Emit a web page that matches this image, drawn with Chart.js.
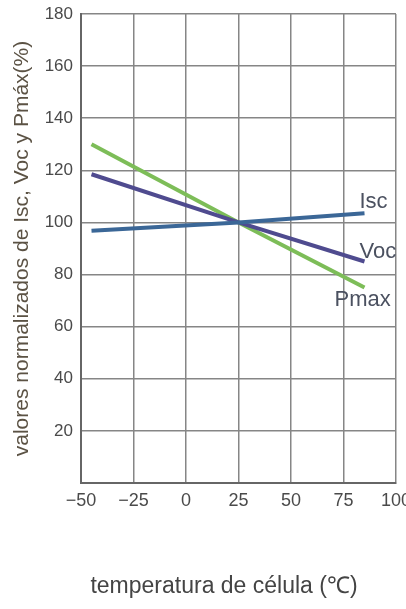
<!DOCTYPE html>
<html>
<head>
<meta charset="utf-8">
<script src="https://cdn.jsdelivr.net/npm/chart.js@4"></script>
<style>
  html, body { margin: 0; padding: 0; background: #fff; }
  #wrap { width: 406px; height: 609px; }
</style>
</head>
<body>
<div id="wrap"><canvas id="chart" width="406" height="609"></canvas></div>
<script>
// temperatura de célula (°C)
const temps = [-45, 25, 85];
// valores normalizados (%)
const iscValues = [96.8, 100, 103.5];
const vocValues = [118.5, 100, 85];
const pmaxValues = [130, 100, 75];
const seriesNames = ['Isc', 'Voc', 'Pmax'];
const xTicks = [-50, -25, 0, 25, 50, 75, 100];
const yTicks = [20, 40, 60, 80, 100, 120, 140, 160, 180];

const FONT = "'Liberation Sans', Arial, sans-serif";

const toPoints = (vals) => temps.map((t, i) => ({ x: t, y: vals[i] }));

// draws the axis titles and the names at the line ends
const labelsPlugin = {
  id: 'labels',
  afterDraw(chart) {
    const ctx = chart.ctx;
    const xs = chart.scales.x, ys = chart.scales.y;
    const area = chart.chartArea;
    ctx.save();

    // series names next to the last point
    const offsets = [[-5, -11], [-5, -10], [-30, 12]];
    ctx.font = '22px ' + FONT;
    ctx.fillStyle = '#4b5160';
    ctx.textBaseline = 'middle';
    ctx.textAlign = 'left';
    chart.data.datasets.forEach((ds, i) => {
      const last = ds.data[ds.data.length - 1];
      const px = xs.getPixelForValue(last.x) + offsets[i][0];
      const py = ys.getPixelForValue(last.y) + offsets[i][1];
      ctx.fillText(seriesNames[i], px, py);
    });

    // y title
    ctx.font = '21px ' + FONT;
    ctx.fillStyle = '#5b5244';
    ctx.translate(22, (area.top + area.bottom) / 2);
    ctx.rotate(-Math.PI / 2);
    ctx.textAlign = 'center';
    ctx.fillText('valores normalizados de Isc, Voc y Pmáx(%)', 0, 0);
    ctx.setTransform(1, 0, 0, 1, 0, 0);

    // x title
    ctx.font = '23px ' + FONT;
    ctx.fillStyle = '#444';
    ctx.textAlign = 'center';
    ctx.fillText('temperatura de célula (℃)', 224, 587);
    ctx.restore();
  }
};

new Chart(document.getElementById('chart'), {
  type: 'line',
  data: {
    datasets: [
      { label: seriesNames[0], data: toPoints(iscValues), borderColor: '#3b6797' },
      { label: seriesNames[1], data: toPoints(vocValues), borderColor: '#4f4b8f' },
      { label: seriesNames[2], data: toPoints(pmaxValues), borderColor: '#7dbd58' }
    ]
  },
  options: {
    responsive: false,
    animation: false,
    layout: { padding: { top: 14, right: 10, left: 0, bottom: 0 } },
    elements: {
      line: { borderWidth: 4, tension: 0, borderCapStyle: 'butt' },
      point: { radius: 0 }
    },
    plugins: {
      legend: { display: false },
      tooltip: { enabled: false }
    },
    scales: {
      x: {
        type: 'linear',
        min: -50,
        max: 100,
        afterBuildTicks: (s) => { s.ticks = xTicks.map(v => ({ value: v })); },
        afterFit: (s) => { s.height = 126; s.paddingLeft = 0; s.paddingRight = 0; },
        grid: { color: '#868686', lineWidth: 1.5, drawTicks: false },
        border: { color: '#666', width: 2 },
        ticks: {
          padding: 7,
          color: '#4a4a4a',
          font: { family: FONT, size: 18 },
          callback: (v) => String(v).replace('-', '−')
        }
      },
      y: {
        min: 0,
        max: 180,
        afterBuildTicks: (s) => { s.ticks = [0].concat(yTicks).map(v => ({ value: v })); },
        afterFit: (s) => { s.width = 81; s.paddingTop = 0; s.paddingBottom = 0; },
        grid: { color: '#868686', lineWidth: 1.5, drawTicks: false },
        border: { color: '#666', width: 2 },
        ticks: {
          padding: 8,
          color: '#4a4a4a',
          font: { family: FONT, size: 17 },
          callback: (v) => v === 0 ? '' : v
        }
      }
    }
  },
  plugins: [labelsPlugin]
});
</script>
</body>
</html>
